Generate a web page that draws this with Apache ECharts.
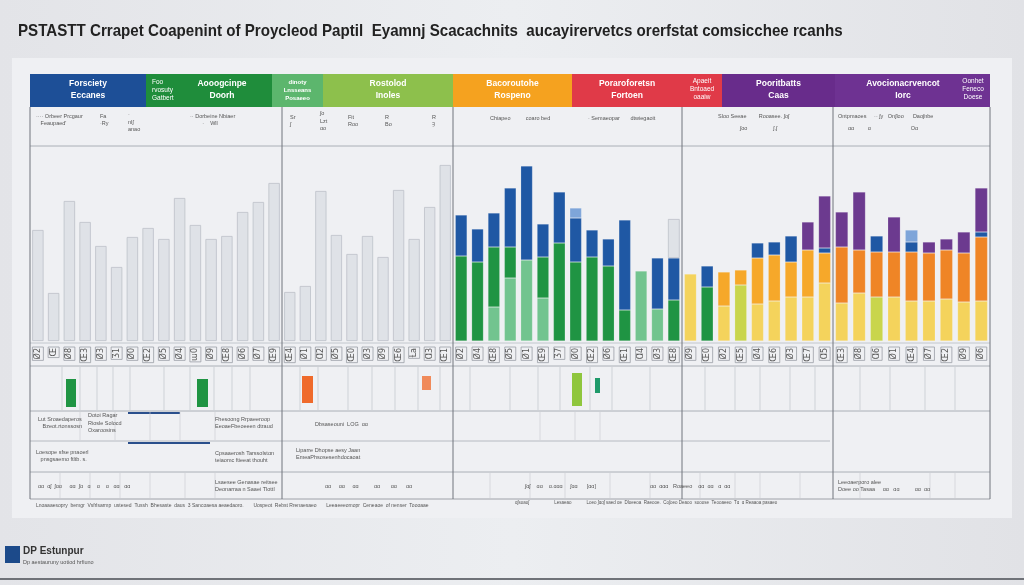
<!DOCTYPE html>
<html><head><meta charset="utf-8">
<script src="https://cdn.jsdelivr.net/npm/echarts@6/dist/echarts.min.js"></script>
<style>html,body{margin:0;padding:0;background:#e7e8ec}#c{width:1024px;height:585px}</style>
</head><body><div id="c"></div>
<script>
// ---------------- data ----------------
const titleText = "PSTASTT Crrapet Coapenint of Proycleod Paptil  Eyamnj Scacachnits  aucayirervetcs orerfstat comsicchee rcanhs";
const panelCounts = [16, 11, 14, 9, 9];
const categories = [
  "Ø2","Œ","Ø8","Œ3","Ø3","Ʒ1","Ø0","Œ2","Ø5","Ø4","ɯ0","Ø9","Œ8","Ø6","Ø7","Œ9",
  "Œ4","Ø1","Ɑ2","Ø5","Œ0","Ø3","Ø9","Œ6","Ɫa","Ɑ3","Œ1",
  "Ø2","Ø4","Œ8","Ø5","Ø1","Œ9","Ʒ7","Ø0","Œ2","Ø6","Œ1","Ɑ4","Ø3","Œ8",
  "Ø9","Œ0","Ø2","Œ5","Ø4","Œ6","Ø3","Œ7","Ɑ5",
  "Œ3","Ø8","Ɑ6","Ø1","Œ4","Ø7","Œ2","Ø9","Ø6"
];
// grey bars (panels 1-2) and faint grey caps
const grayValues = [55.5,24,70,59.5,47.5,37,52,56.5,51,71.5,58,51,52.5,64.5,69.5,79,
  24.5,27.5,75,53,43.5,52.5,42,75.5,51,67,88];
const grayCaps = [null,null,null,null,null,null,null,null,null,null,null,null,null,19.5,
  null,null,null,null,null,null,null,null,null, null,null,null,null,null,null,null,null,null];
// stacked coloured bars (panels 3-5, 32 bars), bottom to top
const lightGreenVals = [null,null,17,31.5,40.5,21.5,null,null,null,null,null,35,16,null,
  null,null,null,null,null,null,null,null,null, null,null,null,null,null,null,null,null,null];
const greenVals = [42.5,39.5,30,15.5,null,20.5,49,39.5,42,37.5,15.5,null,null,20.5,
  null,27,null,null,null,null,null,null,null, null,null,null,null,null,null,null,null,null];
const yellowVals = [null,null,null,null,null,null,null,null,null,null,null,null,null,null,
  33.5,null,17.5,null,18.5,20,22,22,29, 19,24,null,22,20,20,21,19.5,20];
const limeVals = [null,null,null,null,null,null,null,null,null,null,null,null,null,null,
  null,null,null,28,null,null,null,null,null, null,null,22,null,null,null,null,null,null];
const amberVals = [null,null,null,null,null,null,null,null,null,null,null,null,null,null,
  null,null,17,7.5,23,23,17.5,23.5,15, null,null,null,null,null,null,null,null,null];
const orangeVals = [null,null,null,null,null,null,null,null,null,null,null,null,null,null,
  null,null,null,null,null,null,null,null,null, 28,21.5,22.5,22.5,24.5,24,24.5,24.5,32];
const blueVals = [20.5,16.5,17,29.5,47,16.5,25.5,22,13.5,13.5,45,null,25.5,21,
  null,10.5,null,null,7.5,6.5,13,null,2.5, null,null,8,null,5,null,null,null,2.5];
const lightBlueVals = [null,null,null,null,null,null,null,5,null,null,null,null,null,null,
  null,null,null,null,null,null,null,null,null, null,null,null,null,6,null,null,null,null];
const purpleVals = [null,null,null,null,null,null,null,null,null,null,null,null,null,null,
  null,null,null,null,null,null,null,14,26, 17.5,29,null,17.5,null,5.5,5.5,10.5,22];

// header band texts
const headerTexts = [
  ["Forsciety\nEccanes"], ["Foo\nrvosuty\nGatbert", "Aooogcinpe\nDoorh"], ["dinoty\nLnsseans\nPosaeeo"],
  ["Rostolod\nInoles"], ["Bacoroutohe\nRospeno"], ["Poraroforetsn\nFortoen", "Apaeit\nBntoaed\noaaiw"],
  ["Pooritbatts\nCaas"], ["Avocionacrvencot\nIorc", "Oonhet\nFeneco\nDoese"]
];

// ---------------- build ----------------
const edges = [30, 282, 453, 682, 833, 990];
const baseY = 341, plotTop = 141;
const pad = n => new Array(n).fill(null);
const full = a => pad(27).concat(a);
const seriesDefs = [
  ["Light green", full(lightGreenVals), "#72c48f"],
  ["Green", full(greenVals), "#1f9443"],
  ["Yellow", full(yellowVals), "#f4d35c"],
  ["Lime", full(limeVals), "#c9d54c"],
  ["Amber", full(amberVals), "#f6a82a"],
  ["Orange", full(orangeVals), "#ef8526"],
  ["Blue", full(blueVals), "#1f58a4"],
  ["Light blue", full(lightBlueVals), "#7ea5d9"],
  ["Purple", full(purpleVals), "#6c3a8f"],
  ["Grey", grayValues.concat(grayCaps), "#dfe2e7"]
];

const grids = [], xAxes = [], yAxes = [], series = [];
let start = 0;
panelCounts.forEach((cnt, p) => {
  grids.push({left: edges[p], width: edges[p+1]-edges[p], top: plotTop, height: baseY-plotTop});
  xAxes.push({type: 'category', gridIndex: p, data: categories.slice(start, start+cnt),
    axisLine: {show: false}, axisTick: {show: false},
    axisLabel: {interval: 0, fontSize: 8, color: '#555', margin: 6, rotate: 90,
      borderColor: '#9a9ea6', borderWidth: 0.8, padding: [2, 1, 1, 1], fontFamily: 'DejaVu Sans'}});
  yAxes.push({type: 'value', gridIndex: p, min: 0, max: 100, show: false});
  seriesDefs.forEach(([name, vals, color]) => {
    const d = vals.slice(start, start+cnt);
    if (d.every(v => v == null)) return;
    const isGray = name === 'Grey';
    series.push({type: 'bar', name, xAxisIndex: p, yAxisIndex: p, stack: 'p' + p,
      data: d, barWidth: '72%', animation: false,
      itemStyle: {color, borderColor: isGray ? '#bcc0c8' : 'rgba(255,255,255,0.35)', borderWidth: isGray ? 0.8 : 0.5}});
  });
  start += cnt;
});

// ---------------- decoration ----------------
const g = [];
g.push({type: 'rect', shape: {x: 12, y: 58, width: 1000, height: 460}, style: {fill: '#eff0f3'}, z: -10});
g.push({type: 'text', x: 18, y: 23, scaleX: 0.89, style: {text: titleText, fontSize: 17, fontWeight: 'bold',
  fill: '#222', fontFamily: "'Liberation Sans', sans-serif"}});
// header band
const bands = [[30,146,'#1d4f97'],[146,272,'#1f8d3b'],[272,323,'#5cb66d'],[323,453,'#8dc04c'],
  [453,572,'#f5a21f'],[572,722,'#e03a48'],[722,835,'#682c8b'],[835,990,'#6e3292']];
bands.forEach(([x1, x2, c], i) => {
  g.push({type: 'rect', shape: {x: x1, y: 74, width: x2-x1, height: 33}, style: {fill: c}});
  const t = headerTexts[i];
  if (t.length === 1) {
    g.push({type: 'text', x: (x1+x2)/2, y: 90, style: {text: t[0], fill: '#fff', fontSize: x2-x1 < 60 ? 6 : 8.5,
      fontWeight: 'bold', align: 'center', verticalAlign: 'middle', lineHeight: x2-x1 < 60 ? 8 : 12}});
  } else if (i === 1) {
    g.push({type: 'text', x: 152, y: 90, style: {text: t[0], fill: '#fff', fontSize: 6.5, align: 'left', verticalAlign: 'middle', lineHeight: 8}});
    g.push({type: 'text', x: 222, y: 90, style: {text: t[1], fill: '#fff', fontSize: 8.5, fontWeight: 'bold', align: 'center', verticalAlign: 'middle', lineHeight: 12}});
  } else {
    g.push({type: 'text', x: i === 5 ? 627 : 903, y: 90, style: {text: t[0], fill: '#fff', fontSize: 8.5, fontWeight: 'bold', align: 'center', verticalAlign: 'middle', lineHeight: 12}});
    g.push({type: 'text', x: i === 5 ? 702 : 973, y: 89, style: {text: t[1], fill: '#fff', fontSize: 6.5, align: 'center', verticalAlign: 'middle', lineHeight: 8}});
  }
});
// grid lines
const hl = (x1, x2, y, c, w) => g.push({type: 'line', shape: {x1, y1: y, x2, y2: y}, style: {stroke: c || '#8a8e96', lineWidth: w || 0.8}});
const vl = (x, y1, y2, c, w) => g.push({type: 'line', shape: {x1: x, y1, x2: x, y2}, style: {stroke: c || '#8a8e96', lineWidth: w || 0.8}});
hl(30, 990, 146, '#9a9ea6'); hl(30, 990, 343, '#b8bcc3'); hl(30, 990, 366, '#9a9ea6');
hl(30, 990, 411, '#9a9ea6'); hl(30, 830, 441, '#a8acb4'); hl(30, 990, 472, '#9a9ea6'); hl(30, 990, 499, '#8a8e96');
hl(128, 180, 413, '#2a4f8c', 2); hl(128, 210, 443, '#2a4f8c', 2);
[30, 282, 453, 682, 833, 990].forEach(x => vl(x, 107, 499, '#70747c', 1));
// cell dividers in table rows
[62, 80, 97, 113, 130, 164, 190, 214, 232, 250, 300, 318, 348, 372, 395, 418, 440, 470, 510, 538, 560, 590, 612, 650, 705, 735, 760, 790, 815, 860, 890, 925, 955].forEach(x => vl(x, 367, 410, '#c2c5cc', 0.7));
[80, 115, 150, 180, 215, 540, 575, 600].forEach(x => vl(x, 412, 440, '#c8cbd1', 0.6));
[60, 90, 120, 150, 185, 215, 490, 530, 565, 610, 650, 700, 735, 760, 800, 860, 930, 955].forEach(x => vl(x, 473, 498, '#c8cbd1', 0.6));
// coloured chips in table
[[66,379,10,28,'#1f9443'],[197,379,11,28,'#1f9443'],[302,376,11,27,'#ef6a2b'],[422,376,9,14,'#f08a5a'],
 [572,373,10,33,'#8fc63d'],[595,378,5,15,'#1f9a6a']].forEach(([x,y,w,h,c]) =>
  g.push({type: 'rect', shape: {x, y, width: w, height: h}, style: {fill: c}}));
// small texts
const tt = (x, y, text, size, col, align) => g.push({type: 'text', x, y, style: {text, fontSize: size || 5.5,
  fill: col || '#555', align: align || 'left', verticalAlign: 'middle', lineHeight: (size || 5.5) + 2}});
tt(36, 120, "···· Orbeer Prcgaur\n   Feaupaed'"); tt(100, 120, "Fa\n·Ry"); tt(128, 122, "·\nnIʃ\nanao");
tt(190, 120, "·· Dorbeine Nbiaer\n        ·    Wll"); tt(290, 121, "Sr\nʃ"); tt(320, 121, "ʃo\nLzt\nɑo"); tt(348, 121, "Fit\nRoo");
tt(385, 121, "R\nBo"); tt(432, 121, "R\nȜ");
tt(490, 118, "Chiapeo          coaro bed"); tt(588, 118, "· Semaeopar       dtwiegaoit");
tt(718, 116, "Sloo Seeae        Rooasee. ʃoʃ"); tt(838, 116, "Ontpmaoes     ·· ʃy   Onʃloo      Daoʃnbe");
tt(740, 128, "ʃoo                 ʃ.ʃ"); tt(848, 128, "ɑɑ         ɑ                          Oɑ");
tt(38, 423, "Lut Sroaedaperos\n   Bzeot.rtonssosn"); tt(88, 423, "Dotoi Ragar\nRiosle Solocd\nOxaroosins");
tt(215, 423, "Fhesoong Rrpaeeroop\nEeoaeFbeoeeen dtraud"); tt(315, 424, "Dbsaseouni  LOG  ɑɑ");
tt(36, 456, "Loesope sfse pnaoerl\n   pnsgsaemo ftltb. s."); tt(215, 457, "Cpsaaerosh Tarssolstɑn\nteiaomc ftieeat thouht"); tt(296, 454, "Liparre Dhopse aesy Jaan\nEmeaPhsosesenhdocaoat");
tt(38, 486, "ɑɑ  ɑʃ  ʃɑɑ     ɑɑ  ʃɑ   ɑ    ɑ    ɑ   ɑɑ   ɑɑ"); tt(215, 486, "Lsaesee Genasae reitsee\nDeonarraa n Saaei Tlottl");
tt(325, 486, "ɑɑ     ɑɑ     ɑɑ          ɑɑ       ɑɑ      ɑɑ"); tt(525, 486, "ʃɑʃ    ɑɑ    ɑ.ɑɑɑ     ʃɑɑ      [ɑɑ]");
tt(650, 486, "ɑɑ  ɑɑɑ   Roaeeo    ɑɑ  ɑɑ   ɑ  ɑɑ"); tt(838, 486, "Leeoaerporo alee\nDoee oo Tasaa     ɑɑ   ɑɑ          ɑɑ  ɑɑ");
tt(36, 506, "Lnoaaaesopry  bemgr  Vsfrlsarmp  ustesed  Tussh  Bhesaste  daus  3 Sancoaesa aeaedaoro.       Uospeot  Rebst Rrenaesaeo       Leeaeeeomopr  Ceneaoe  of nenser  Toooaae", 5);
tt(515, 503, "ɑʃsoaoʃ                    Lesaeao            Loeo ʃɑɑʃ saed ɑe  Dloeeoa  Raeooe.  Coʃoeo Deaoo  sooose  Teooaeeo  Tɑ  ɑ Reaaoa pasaeo", 4.5);
// logo
g.push({type: 'rect', shape: {x: 5, y: 546, width: 15, height: 17}, style: {fill: '#1c4a8a'}});
g.push({type: 'text', x: 23, y: 551, style: {text: 'DP Estunpur', fontSize: 10, fontWeight: 'bold', fill: '#333', verticalAlign: 'middle'}});
g.push({type: 'text', x: 23, y: 562, style: {text: 'Dp aestauruny uotiod hrfiuno', fontSize: 5.5, fill: '#555', verticalAlign: 'middle'}});
g.push({type: 'line', shape: {x1: 0, y1: 579, x2: 1024, y2: 579}, style: {stroke: '#6f7278', lineWidth: 2}});

const chart = echarts.init(document.getElementById('c'), null, {renderer: 'canvas'});
chart.setOption({
  backgroundColor: {type: 'linear', x: 0, y: 0, x2: 1, y2: 0, colorStops: [{offset: 0, color: '#e3e4e8'}, {offset: 0.5, color: '#eceef1'}, {offset: 1, color: '#e1e2e6'}]},
  animation: false,
  grid: grids, xAxis: xAxes, yAxis: yAxes, series,
  graphic: g
});
</script></body></html>
